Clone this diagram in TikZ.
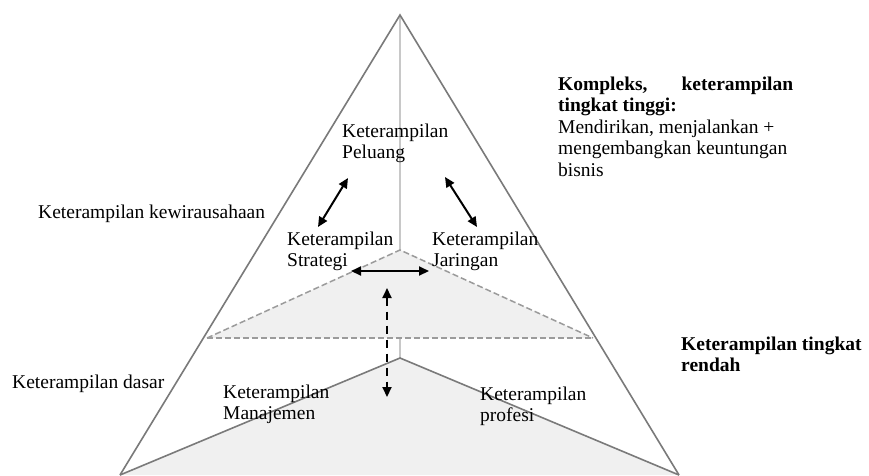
\documentclass[tikz,border=0pt]{standalone}
\usepackage{fontspec}
\setmainfont{Liberation Serif}
\usetikzlibrary{arrows.meta}
\definecolor{edgegray}{RGB}{122,122,122}
\definecolor{axisgray}{RGB}{200,200,200}
\definecolor{fillgray}{RGB}{240,240,240}
\definecolor{dashgray}{RGB}{155,155,155}
\begin{document}
\begin{tikzpicture}[x=1pt,y=-1pt,
 lbl/.style={anchor=north west, inner sep=0pt, align=left, font=\fontsize{19.5}{21.5}\selectfont},
 outline/.style={draw=edgegray, line width=1.6pt},
 dashline/.style={draw=dashgray, line width=1.5pt, dash pattern=on 6pt off 3pt},
 dblarrow/.style={line width=2pt, {Triangle[length=10pt,width=9pt]}-{Triangle[length=10pt,width=9pt]}},
 dasharrow/.style={line width=2pt, dash pattern=on 8pt off 6pt, {Triangle[length=10pt,width=9pt]}-{Triangle[length=10pt,width=9pt]}},
]
\useasboundingbox[fill=white] (0,0) rectangle (869,475);
\coordinate (apex) at (400,15);
\coordinate (bl) at (120,475);
\coordinate (br) at (679,475);
\coordinate (dapex) at (400,250);
\coordinate (dl) at (207,338);
\coordinate (dr) at (593,338);
\coordinate (lapex) at (400,358);
\draw[axisgray, line width=1.5pt] (apex) -- (lapex);
\fill[fillgray] (dapex) -- (dl) -- (dr) -- cycle;
\fill[fillgray] (lapex) -- (bl) -- (br) -- cycle;
\draw[dashline] (dl) -- (dapex) -- (dr);
\draw[dashline] (dl) -- (dr);
\draw[outline] (bl) -- (lapex) -- (br);
\draw[outline] (bl) -- (apex) -- (br);

\node[lbl] (peluang) at (342,123.5) {Keterampilan\\Peluang};
\node[lbl] (strategi) at (287,231.5) {Keterampilan\\Strategi};
\node[lbl] (jaringan) at (432,231.5) {Keterampilan\\Jaringan};
\node[lbl] (kewira) at (38,204.5) {Keterampilan kewirausahaan};
\node[lbl] (dasar) at (12,374.5) {Keterampilan dasar};
\node[lbl] (manajemen) at (223,384.5) {Keterampilan\\Manajemen};
\node[lbl] (profesi) at (480,386.5) {Keterampilan\\profesi};
\node[lbl] (kompleks) at (558,76.5) {\makebox[235pt][s]{\bfseries Kompleks,\hfill keterampilan}\\\textbf{tingkat tinggi:}\\Mendirikan, menjalankan +\\mengembangkan keuntungan\\bisnis};
\node[lbl] (rendah) at (681,336.5) {\textbf{Keterampilan tingkat}\\\textbf{rendah}};

\coordinate (a1s) at (348,178);
\coordinate (a1e) at (318,227);
\coordinate (a2s) at (445,177);
\coordinate (a2e) at (477,227);
\coordinate (a3s) at (351,271);
\coordinate (a3e) at (429,271);
\coordinate (a4s) at (387,288);
\coordinate (a4e) at (387,397);
\draw[dblarrow] (a1s) -- (a1e);
\draw[dblarrow] (a2s) -- (a2e);
\draw[dblarrow] (a3s) -- (a3e);
\draw[dasharrow] (a4s) -- (a4e);
\end{tikzpicture}
\end{document}
